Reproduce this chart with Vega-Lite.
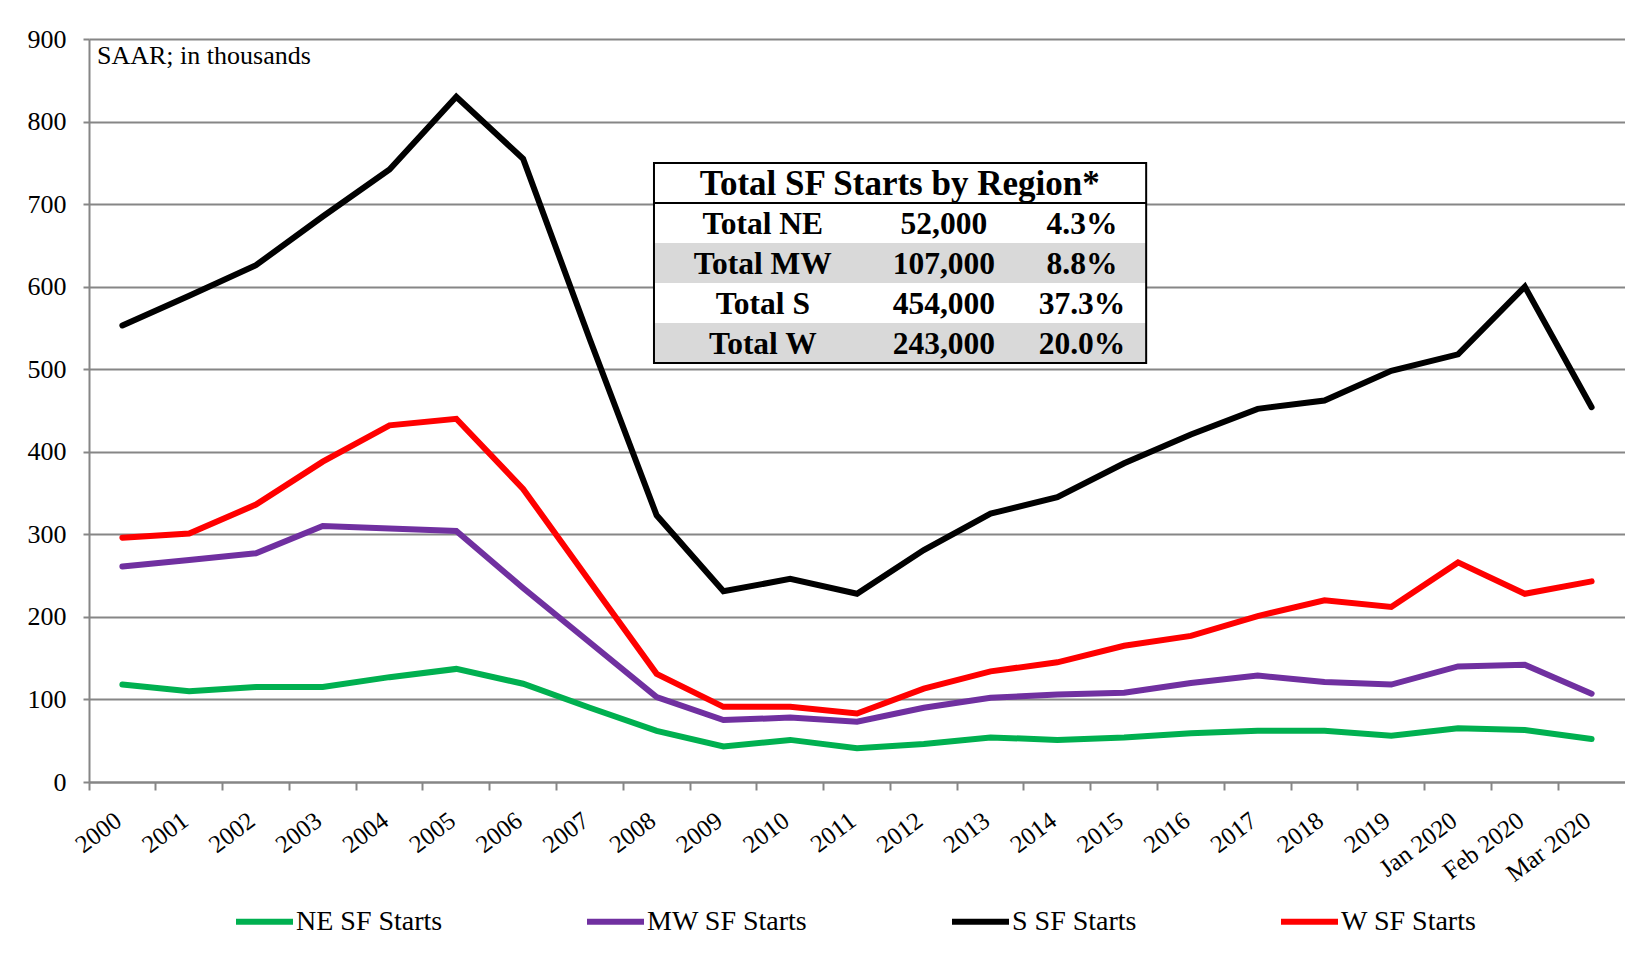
{
  "$schema": "https://vega.github.io/schema/vega-lite/v6.json",
  "width": 1536,
  "height": 743,
  "autosize": {"type": "none"},
  "padding": {"left": 89, "top": 39, "right": 0, "bottom": 174},
  "background": "white",
  "config": {
    "font": "Liberation Serif",
    "view": {"stroke": null},
    "text": {"font": "Liberation Serif", "color": "black"}
  },
  "datasets": {
    "starts": [
      {"period": "2000", "region": "NE SF Starts", "starts": 118},
      {"period": "2001", "region": "NE SF Starts", "starts": 110},
      {"period": "2002", "region": "NE SF Starts", "starts": 115},
      {"period": "2003", "region": "NE SF Starts", "starts": 115},
      {"period": "2004", "region": "NE SF Starts", "starts": 127},
      {"period": "2005", "region": "NE SF Starts", "starts": 137},
      {"period": "2006", "region": "NE SF Starts", "starts": 119},
      {"period": "2007", "region": "NE SF Starts", "starts": 90},
      {"period": "2008", "region": "NE SF Starts", "starts": 62},
      {"period": "2009", "region": "NE SF Starts", "starts": 43},
      {"period": "2010", "region": "NE SF Starts", "starts": 51},
      {"period": "2011", "region": "NE SF Starts", "starts": 41},
      {"period": "2012", "region": "NE SF Starts", "starts": 46},
      {"period": "2013", "region": "NE SF Starts", "starts": 54},
      {"period": "2014", "region": "NE SF Starts", "starts": 51},
      {"period": "2015", "region": "NE SF Starts", "starts": 54},
      {"period": "2016", "region": "NE SF Starts", "starts": 59},
      {"period": "2017", "region": "NE SF Starts", "starts": 62},
      {"period": "2018", "region": "NE SF Starts", "starts": 62},
      {"period": "2019", "region": "NE SF Starts", "starts": 56},
      {"period": "Jan 2020", "region": "NE SF Starts", "starts": 65},
      {"period": "Feb 2020", "region": "NE SF Starts", "starts": 63},
      {"period": "Mar 2020", "region": "NE SF Starts", "starts": 52},
      {"period": "2000", "region": "MW SF Starts", "starts": 261},
      {"period": "2001", "region": "MW SF Starts", "starts": 269},
      {"period": "2002", "region": "MW SF Starts", "starts": 277},
      {"period": "2003", "region": "MW SF Starts", "starts": 310},
      {"period": "2004", "region": "MW SF Starts", "starts": 307},
      {"period": "2005", "region": "MW SF Starts", "starts": 304},
      {"period": "2006", "region": "MW SF Starts", "starts": 235},
      {"period": "2007", "region": "MW SF Starts", "starts": 169},
      {"period": "2008", "region": "MW SF Starts", "starts": 103},
      {"period": "2009", "region": "MW SF Starts", "starts": 75},
      {"period": "2010", "region": "MW SF Starts", "starts": 78},
      {"period": "2011", "region": "MW SF Starts", "starts": 73},
      {"period": "2012", "region": "MW SF Starts", "starts": 90},
      {"period": "2013", "region": "MW SF Starts", "starts": 102},
      {"period": "2014", "region": "MW SF Starts", "starts": 106},
      {"period": "2015", "region": "MW SF Starts", "starts": 108},
      {"period": "2016", "region": "MW SF Starts", "starts": 120},
      {"period": "2017", "region": "MW SF Starts", "starts": 129},
      {"period": "2018", "region": "MW SF Starts", "starts": 121},
      {"period": "2019", "region": "MW SF Starts", "starts": 118},
      {"period": "Jan 2020", "region": "MW SF Starts", "starts": 140},
      {"period": "Feb 2020", "region": "MW SF Starts", "starts": 142},
      {"period": "Mar 2020", "region": "MW SF Starts", "starts": 107},
      {"period": "2000", "region": "S SF Starts", "starts": 553},
      {"period": "2001", "region": "S SF Starts", "starts": 589},
      {"period": "2002", "region": "S SF Starts", "starts": 626},
      {"period": "2003", "region": "S SF Starts", "starts": 685},
      {"period": "2004", "region": "S SF Starts", "starts": 742},
      {"period": "2005", "region": "S SF Starts", "starts": 830},
      {"period": "2006", "region": "S SF Starts", "starts": 755},
      {"period": "2007", "region": "S SF Starts", "starts": 536},
      {"period": "2008", "region": "S SF Starts", "starts": 323},
      {"period": "2009", "region": "S SF Starts", "starts": 231},
      {"period": "2010", "region": "S SF Starts", "starts": 246},
      {"period": "2011", "region": "S SF Starts", "starts": 228},
      {"period": "2012", "region": "S SF Starts", "starts": 281},
      {"period": "2013", "region": "S SF Starts", "starts": 325},
      {"period": "2014", "region": "S SF Starts", "starts": 345},
      {"period": "2015", "region": "S SF Starts", "starts": 386},
      {"period": "2016", "region": "S SF Starts", "starts": 421},
      {"period": "2017", "region": "S SF Starts", "starts": 452},
      {"period": "2018", "region": "S SF Starts", "starts": 462},
      {"period": "2019", "region": "S SF Starts", "starts": 498},
      {"period": "Jan 2020", "region": "S SF Starts", "starts": 518},
      {"period": "Feb 2020", "region": "S SF Starts", "starts": 600},
      {"period": "Mar 2020", "region": "S SF Starts", "starts": 454},
      {"period": "2000", "region": "W SF Starts", "starts": 296},
      {"period": "2001", "region": "W SF Starts", "starts": 301},
      {"period": "2002", "region": "W SF Starts", "starts": 336},
      {"period": "2003", "region": "W SF Starts", "starts": 388},
      {"period": "2004", "region": "W SF Starts", "starts": 432},
      {"period": "2005", "region": "W SF Starts", "starts": 440},
      {"period": "2006", "region": "W SF Starts", "starts": 355},
      {"period": "2007", "region": "W SF Starts", "starts": 243},
      {"period": "2008", "region": "W SF Starts", "starts": 131},
      {"period": "2009", "region": "W SF Starts", "starts": 91},
      {"period": "2010", "region": "W SF Starts", "starts": 91},
      {"period": "2011", "region": "W SF Starts", "starts": 83},
      {"period": "2012", "region": "W SF Starts", "starts": 113},
      {"period": "2013", "region": "W SF Starts", "starts": 134},
      {"period": "2014", "region": "W SF Starts", "starts": 145},
      {"period": "2015", "region": "W SF Starts", "starts": 165},
      {"period": "2016", "region": "W SF Starts", "starts": 177},
      {"period": "2017", "region": "W SF Starts", "starts": 201},
      {"period": "2018", "region": "W SF Starts", "starts": 220},
      {"period": "2019", "region": "W SF Starts", "starts": 212},
      {"period": "Jan 2020", "region": "W SF Starts", "starts": 266},
      {"period": "Feb 2020", "region": "W SF Starts", "starts": 228},
      {"period": "Mar 2020", "region": "W SF Starts", "starts": 243}
    ],
    "table": [
      {"row": 1, "label": "Total NE", "total": "52,000", "share": "4.3%"},
      {"row": 2, "label": "Total MW", "total": "107,000", "share": "8.8%"},
      {"row": 3, "label": "Total S", "total": "454,000", "share": "37.3%"},
      {"row": 4, "label": "Total W", "total": "243,000", "share": "20.0%"}
    ],
    "tabletitle": [
      {"row": 0, "title": "Total SF Starts by Region*"}
    ],
    "note": [
      {"note": "SAAR; in thousands"}
    ]
  },
  "layer": [
    {
      "layer": [
        {
          "data": {"name": "starts"},
          "mark": {"type": "line", "strokeWidth": 6, "strokeJoin": "miter", "strokeCap": "round"},
          "encoding": {
            "x": {
              "field": "period",
              "type": "ordinal",
              "scale": {
                "type": "band",
                "paddingInner": 0,
                "paddingOuter": 0,
                "domain": ["2000", "2001", "2002", "2003", "2004", "2005", "2006", "2007", "2008", "2009", "2010", "2011", "2012", "2013", "2014", "2015", "2016", "2017", "2018", "2019", "Jan 2020", "Feb 2020", "Mar 2020"]
              },
              "axis": {
                "title": null,
                "bandPosition": 0,
                "labelOffset": -4,
                "labelAngle": -37,
                "labelAlign": "right",
                "labelBaseline": "middle",
                "labelFontSize": 25,
                "labelColor": "black",
                "labelPadding": 27,
                "tickSize": 8,
                "tickWidth": 2,
                "tickColor": "#868686",
                "domainColor": "#868686",
                "domainWidth": 2,
                "grid": false
              }
            },
            "y": {
              "field": "starts",
              "type": "quantitative",
              "scale": {"domain": [0, 900], "nice": false, "zero": true},
              "axis": {
                "title": null,
                "values": [0, 100, 200, 300, 400, 500, 600, 700, 800, 900],
                "grid": true,
                "gridColor": "#868686",
                "gridWidth": 2,
                "domainColor": "#868686",
                "domainWidth": 2,
                "tickColor": "#868686",
                "tickWidth": 2,
                "tickSize": 6,
                "labelFontSize": 26,
                "labelColor": "black",
                "labelPadding": 17
              }
            },
            "color": {
              "field": "region",
              "type": "nominal",
              "scale": {
                "domain": ["NE SF Starts", "MW SF Starts", "S SF Starts", "W SF Starts"],
                "range": ["#00b050", "#7030a0", "#000000", "#ff0000"]
              },
              "legend": {
                "title": null,
                "orient": "none",
                "legendX": 144,
                "legendY": 851,
                "direction": "horizontal",
                "columns": 4,
                "columnPadding": 132,
                "symbolType": "stroke",
                "symbolSize": 3249,
                "symbolStrokeWidth": 6,
                "labelFontSize": 28,
                "labelFont": "Liberation Serif",
                "labelColor": "black",
                "labelOffset": 0,
                "labelLimit": 400
              }
            }
          }
        },
        {
          "data": {"name": "note"},
          "mark": {"type": "text", "align": "left", "baseline": "middle", "fontSize": 26, "dx": 8},
          "encoding": {
            "x": {"datum": "2000", "type": "ordinal", "bandPosition": 0},
            "y": {"datum": 880, "type": "quantitative"},
            "text": {"field": "note"}
          }
        }
      ]
    },
    {
      "layer": [
        {
          "data": {"values": [{"part": "frame"}]},
          "mark": {"type": "rect", "fill": "white"},
          "encoding": {
            "x": {"datum": 8.46, "type": "quantitative", "scale": {"domain": [0, 23], "nice": false, "zero": false}, "axis": null},
            "x2": {"datum": 15.83},
            "y": {"datum": -0.5, "type": "quantitative", "scale": {"domain": [-3.6, 14.975], "nice": false, "zero": false, "reverse": true}, "axis": null},
            "y2": {"datum": 4.5}
          }
        },
        {
          "data": {"values": [{"part": "shade"}]},
          "mark": {"type": "rect", "fill": "#d9d9d9"},
          "encoding": {
            "x": {"datum": 8.46, "type": "quantitative"},
            "x2": {"datum": 15.83},
            "y": {"datum": 1.5, "type": "quantitative"},
            "y2": {"datum": 2.5}
          }
        },
        {
          "data": {"values": [{"part": "shade"}]},
          "mark": {"type": "rect", "fill": "#d9d9d9"},
          "encoding": {
            "x": {"datum": 8.46, "type": "quantitative"},
            "x2": {"datum": 15.83},
            "y": {"datum": 3.5, "type": "quantitative"},
            "y2": {"datum": 4.5}
          }
        },
        {
          "data": {"values": [{"part": "separator"}]},
          "mark": {"type": "rule", "stroke": "black", "strokeWidth": 2},
          "encoding": {
            "x": {"datum": 8.46, "type": "quantitative"},
            "x2": {"datum": 15.83},
            "y": {"datum": 0.5, "type": "quantitative"}
          }
        },
        {
          "data": {"values": [{"part": "border"}]},
          "mark": {"type": "rect", "fill": null, "fillOpacity": 0, "stroke": "black", "strokeWidth": 2},
          "encoding": {
            "x": {"datum": 8.46, "type": "quantitative"},
            "x2": {"datum": 15.83},
            "y": {"datum": -0.5, "type": "quantitative"},
            "y2": {"datum": 4.5}
          }
        },
        {
          "data": {"name": "tabletitle"},
          "mark": {"type": "text", "fontWeight": "bold", "fontSize": 35, "align": "center", "baseline": "middle", "dy": 1},
          "encoding": {
            "x": {"datum": 12.14, "type": "quantitative"},
            "y": {"field": "row", "type": "quantitative"},
            "text": {"field": "title"}
          }
        },
        {
          "data": {"name": "table"},
          "mark": {"type": "text", "fontWeight": "bold", "fontSize": 31.5, "align": "center", "baseline": "middle", "dy": 2},
          "encoding": {
            "x": {"datum": 10.09, "type": "quantitative"},
            "y": {"field": "row", "type": "quantitative"},
            "text": {"field": "label"}
          }
        },
        {
          "data": {"name": "table"},
          "mark": {"type": "text", "fontWeight": "bold", "fontSize": 31.5, "align": "center", "baseline": "middle", "dy": 2},
          "encoding": {
            "x": {"datum": 12.8, "type": "quantitative"},
            "y": {"field": "row", "type": "quantitative"},
            "text": {"field": "total"}
          }
        },
        {
          "data": {"name": "table"},
          "mark": {"type": "text", "fontWeight": "bold", "fontSize": 31.5, "align": "center", "baseline": "middle", "dy": 2},
          "encoding": {
            "x": {"datum": 14.87, "type": "quantitative"},
            "y": {"field": "row", "type": "quantitative"},
            "text": {"field": "share"}
          }
        }
      ]
    }
  ],
  "resolve": {
    "scale": {"x": "independent", "y": "independent"},
    "axis": {"x": "independent", "y": "independent"}
  }
}
